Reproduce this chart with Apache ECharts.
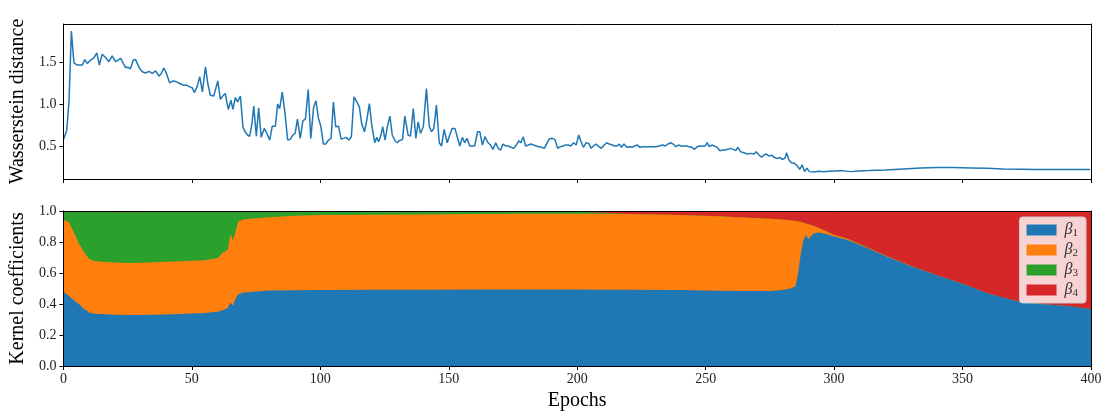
<!DOCTYPE html>
<html><head><meta charset="utf-8">
<script src="https://cdn.jsdelivr.net/npm/echarts@6/dist/echarts.min.js"></script>
<style>html,body{margin:0;padding:0;background:#fff}#c{width:1111px;height:412px}</style>
</head><body><div id="c"></div>
<script>
// ---- Top panel: Wasserstein distance (epoch, value) ----
const wEpoch = [0,1.3,2.2,3.1,4.1,5.4,7.4,8.3,9.3,10.6,11.9,13.0,14.0,15.1,16.4,17.7,19.0,20.3,21.2,22.3,
23.3,24.2,25.1,26.1,27.2,28.1,29.4,30.7,32.0,33.3,34.6,35.9,37.2,38.1,39.1,40.1,41.4,42.7,44.0,45.3,
46.6,47.9,49.2,50.1,51.0,52.0,53.1,54.1,55.3,56.2,57.2,58.5,60.1,61.1,62.0,63.0,64.2,65.2,66.0,66.9,
67.8,68.9,69.9,
70.8,71.7,72.5,73.4,74.1,75.1,76.0,77.0,78.2,79.2,80.3,81.3,82.5,83.4,84.2,85.2,86.2,87.3,88.3,89.3,
90.2,91.1,92.2,93.2,94.2,95.3,96.3,97.4,98.3,99.3,100.2,101.2,102.1,103.2,104.2,105.1,106.0,107.1,108.1,109.0,
110.0,111.1,112.1,113.1,114.2,115.2,116.1,117.2,118.1,119.1,120.1,121.2,122.0,122.7,123.5,124.3,125.2,126.1,127.1,128.0,
129.1,130.0,
130.7,132.0,132.9,134.2,135.1,136.2,137.2,138.1,139.0,140.1,141.3,142.4,143.3,144.2,145.2,146.3,147.2,148.2,149.4,150.4,
151.3,152.4,153.3,154.3,155.3,156.2,157.1,158.2,159.2,160.1,161.2,162.1,163.1,164.1,165.3,166.3,167.2,168.3,169.2,170.2,
171.1,172.2,173.2,174.2,175.3,176.3,177.3,178.1,179.0,179.9,181.0,182.0,183.0,184.1,185.1,186.1,187.2,188.2,189.2,190.3,
191.3,192.4,193.4,194.4,195.5,196.5,197.5,198.6,199.6,
200.6,201.5,202.4,203.5,204.5,205.4,206.3,207.3,208.4,209.4,210.5,211.5,212.5,213.6,214.6,215.5,216.4,217.2,218.2,219.3,
220.3,221.3,222.4,223.4,224.4,225.5,226.8,228.1,229.4,230.6,231.9,233.2,234.3,235.3,236.3,237.4,238.4,239.5,240.5,241.5,
242.6,243.6,244.6,245.7,246.7,247.7,248.8,249.8,250.6,251.4,252.4,253.4,254.5,255.5,256.5,257.6,258.6,259.6,260.7,261.7,
262.5,
263.6,264.9,266.2,267.5,268.8,269.7,270.8,271.8,272.7,273.6,274.6,275.7,276.7,277.8,278.8,279.8,280.9,281.5,282.4,283.4,
284.5,285.5,286.6,287.6,288.5,289.4,290.4,292.1,294.1,295.6,297.9,300.5,303.1,306.4,309.6,313.5,320.0,327.0,333.6,340.0,
346.5,353.0,359.4,365.9,372.4,378.9,385.3,391.8,399.6];
const wValue = [0.58,0.69,1.05,1.876,1.495,1.47,1.47,1.535,1.49,1.53,1.555,1.615,1.47,1.60,1.56,1.51,1.58,1.51,1.53,1.55,
1.49,1.44,1.445,1.425,1.53,1.535,1.445,1.39,1.375,1.395,1.37,1.40,1.337,1.37,1.435,1.37,1.257,1.28,1.27,1.25,
1.23,1.23,1.21,1.20,1.14,1.21,1.33,1.15,1.45,1.25,1.11,1.10,1.28,1.06,1.10,1.13,0.94,1.05,0.94,1.08,
1.03,1.10,0.73,
0.67,0.635,0.62,0.77,0.98,0.62,0.96,0.607,0.714,0.654,0.575,0.74,0.74,1.004,0.95,1.146,0.91,0.575,0.583,0.635,
0.654,0.825,0.595,0.805,0.825,1.178,0.595,0.964,1.043,0.833,0.74,0.527,0.527,0.575,0.595,1.027,0.734,0.74,0.587,0.595,
0.607,0.575,0.615,1.09,1.03,0.972,0.773,0.674,0.813,1.01,0.74,0.543,0.607,0.555,0.622,0.734,0.575,0.734,0.861,0.635,
0.567,0.543,
0.567,0.583,0.861,0.635,0.622,0.952,0.595,0.793,0.654,0.734,1.19,0.74,0.674,0.714,0.992,0.543,0.504,0.702,0.543,0.635,
0.714,0.714,0.615,0.504,0.607,0.543,0.595,0.504,0.504,0.504,0.674,0.674,0.515,0.615,0.543,0.515,0.464,0.543,0.476,0.456,
0.527,0.504,0.504,0.488,0.476,0.515,0.567,0.543,0.615,0.504,0.515,0.527,0.515,0.504,0.496,0.488,0.476,0.535,0.591,0.595,
0.583,0.476,0.496,0.504,0.515,0.515,0.504,0.543,0.515,
0.635,0.555,0.488,0.543,0.535,0.476,0.504,0.527,0.496,0.476,0.515,0.543,0.527,0.515,0.504,0.504,0.527,0.488,0.527,0.488,
0.496,0.488,0.504,0.515,0.488,0.496,0.496,0.496,0.496,0.496,0.504,0.515,0.504,0.527,0.543,0.527,0.496,0.515,0.504,0.504,
0.504,0.496,0.488,0.464,0.496,0.504,0.504,0.504,0.543,0.496,0.515,0.504,0.488,0.448,0.456,0.456,0.464,0.476,0.464,0.448,
0.488,
0.436,0.424,0.408,0.416,0.408,0.436,0.396,0.369,0.396,0.408,0.385,0.393,0.369,0.353,0.369,0.345,0.357,0.424,0.337,0.305,
0.297,0.274,0.226,0.278,0.198,0.238,0.198,0.194,0.202,0.198,0.202,0.206,0.21,0.198,0.206,0.21,0.218,0.23,0.242,0.246,
0.246,0.242,0.238,0.23,0.226,0.222,0.222,0.222,0.222];

// ---- Bottom panel: kernel coefficients ----
const kEpoch = [0,2,4,6,8,10,12,15,20,25,30,35,40,45,50,55,58,60,62,64,
65,66,67,68,70,73,76,80,90,100,120,140,160,180,190,200,210,220,240,255,
265,275,280,283,285,286,287,288,289,290,292,294,297,300,305,310,320,330,340,350,
360,370,380,390,400];
const beta1 = [0.477,0.455,0.424,0.40,0.37,0.345,0.337,0.335,0.331,0.329,0.329,0.331,0.333,0.335,0.338,0.342,0.346,0.35,0.36,0.375,
0.41,0.39,0.434,0.462,0.475,0.478,0.482,0.487,0.489,0.49,0.492,0.492,0.493,0.493,0.493,0.493,0.492,0.492,0.49,0.485,
0.484,0.484,0.49,0.50,0.515,0.60,0.72,0.81,0.843,0.82,0.855,0.862,0.852,0.835,0.815,0.782,0.71,0.643,0.585,0.53,
0.468,0.423,0.40,0.388,0.368];
const beta2 = [0.467,0.475,0.441,0.39,0.366,0.345,0.341,0.337,0.336,0.336,0.337,0.339,0.34,0.341,0.341,0.341,0.344,0.345,0.37,0.375,
0.44,0.42,0.431,0.468,0.47,0.472,0.473,0.473,0.481,0.484,0.484,0.486,0.487,0.489,0.49,0.49,0.49,0.488,0.485,0.481,
0.474,0.466,0.455,0.44,0.42,0.332,0.21,0.115,0.077,0.095,0.05,0.028,0.018,0.01,0.007,0.005,0.003,0.002,0.001,0.001,
0,0,0,0,0];
const beta3 = [0.056,0.069,0.132,0.206,0.259,0.304,0.315,0.321,0.325,0.327,0.326,0.323,0.32,0.318,0.316,0.313,0.307,0.303,0.268,0.249,
0.149,0.189,0.135,0.07,0.055,0.05,0.045,0.04,0.03,0.026,0.024,0.022,0.02,0.018,0.017,0.012,0.006,0,0,0,
0,0,0,0,0,0,0,0,0,0,0,0,0,0,0,0,0,0,0,0,
0,0,0,0,0];
const beta4 = [0,0.001,0.003,0.004,0.005,0.006,0.007,0.007,0.008,0.008,0.008,0.007,0.007,0.006,0.005,0.004,0.003,0.002,0.002,0.001,
0.001,0.001,0,0,0,0,0,0,0,0,0,0,0,0,0,0.005,0.012,0.02,0.025,0.034,
0.042,0.05,0.055,0.06,0.065,0.068,0.07,0.075,0.08,0.085,0.095,0.11,0.13,0.155,0.178,0.213,0.287,0.355,0.414,0.469,
0.532,0.577,0.60,0.612,0.632];

const seriesNames = ['β1','β2','β3','β4'];
const topYTicks = [0.5, 1.0, 1.5];

const FONT = 'Liberation Serif';
const COLORS = ['#1f77b4','#ff7f0e','#2ca02c','#d62728'];

// cumulative tops of the stacked areas
const betas = [beta1, beta2, beta3, beta4];
const cum = betas.map((_, s) => kEpoch.map((e, i) => {
  let t = 0; for (let k = 0; k <= s; k++) t += betas[k][i]; return [e, +t.toFixed(4)];
}));

const chart = echarts.init(document.getElementById('c'));

const tickLabel = {fontFamily: FONT, fontSize: 14, color: '#222'};
const baseX = (gi, showLabels) => ({
  type: 'value', gridIndex: gi, min: 0, max: 400, interval: 50, z: 10,
  axisLine: {show: true, onZero: false, lineStyle: {color: '#000', width: 1}},
  axisTick: {show: true, inside: false, length: 4, lineStyle: {color: '#000', width: 1}},
  axisLabel: Object.assign({show: showLabels, margin: 6}, tickLabel),
  splitLine: {show: false}
});
const borderAxis = (gi, pos, min, max) => ({
  type: 'value', gridIndex: gi, position: pos, min: min, max: max, z: 10,
  axisLine: {show: true, onZero: false, lineStyle: {color: '#000', width: 1}},
  axisTick: {show: false}, axisLabel: {show: false}, splitLine: {show: false}
});

const option = {
  animation: false,
  backgroundColor: '#fff',
  grid: [
    {left: 61, width: 1030, top: 24, height: 155},
    {left: 61, width: 1030, top: 211, height: 155}
  ],
  xAxis: [
    baseX(0, false),
    Object.assign(baseX(1, true), {name: 'Epochs', nameLocation: 'middle', nameGap: 25,
      nameTextStyle: {fontFamily: FONT, fontSize: 20, color: '#000'}}),
    borderAxis(0, 'top', 0, 400),
    borderAxis(1, 'top', 0, 400)
  ],
  yAxis: [
    {type: 'value', gridIndex: 0, min: 0.11, max: 1.96, z: 10,
     name: 'Wasserstein distance', nameLocation: 'middle', nameGap: 34, nameRotate: 90,
     nameTextStyle: {fontFamily: FONT, fontSize: 20, color: '#000'},
     axisLine: {show: true, onZero: false, lineStyle: {color: '#000', width: 1}},
     axisTick: {show: true, inside: false, length: 4, customValues: topYTicks, lineStyle: {color: '#000'}},
     axisLabel: Object.assign({customValues: topYTicks, margin: 7, formatter: v => v.toFixed(1)}, tickLabel),
     splitLine: {show: false}},
    {type: 'value', gridIndex: 1, min: 0, max: 1, interval: 0.2, z: 10,
     name: 'Kernel coefficients', nameLocation: 'middle', nameGap: 34, nameRotate: 90,
     nameTextStyle: {fontFamily: FONT, fontSize: 20, color: '#000'},
     axisLine: {show: true, onZero: false, lineStyle: {color: '#000', width: 1}},
     axisTick: {show: true, inside: false, length: 4, lineStyle: {color: '#000'}},
     axisLabel: Object.assign({margin: 7, formatter: v => v.toFixed(1)}, tickLabel),
     splitLine: {show: false}},
    borderAxis(0, 'right', 0.11, 1.96),
    borderAxis(1, 'right', 0, 1)
  ],
  legend: {
    data: seriesNames,
    orient: 'vertical', right: 25, top: 217,
    icon: 'rect', itemWidth: 30, itemHeight: 11, itemGap: 3,
    backgroundColor: 'rgba(255,255,255,0.8)', borderColor: '#cccccc', borderWidth: 1, borderRadius: 3,
    padding: [5, 8, 4, 7],
    formatter: n => '{b|β}{s|' + n.slice(1) + '}',
    textStyle: {
      color: '#333', padding: [0, 0, 0, 3],
      rich: {
        b: {fontFamily: FONT, fontSize: 16, fontStyle: 'italic', color: '#333'},
        s: {fontFamily: FONT, fontSize: 11, color: '#333', padding: [7, 0, 0, 0]}
      }
    }
  },
  series: [
    {type: 'line', xAxisIndex: 0, yAxisIndex: 0, showSymbol: false, symbol: 'none',
     data: wEpoch.map((e, i) => [e, wValue[i]]),
     lineStyle: {color: '#1f77b4', width: 1.5}, z: 3}
  ].concat([3, 2, 1, 0].map(s => ({
    name: seriesNames[s], type: 'line', xAxisIndex: 1, yAxisIndex: 1,
    showSymbol: false, symbol: 'none', data: cum[s],
    itemStyle: {color: COLORS[s]},
    lineStyle: {width: 0, color: COLORS[s]},
    areaStyle: {color: COLORS[s], opacity: 1, origin: 'start'},
    z: 2
  })))
};
chart.setOption(option);
</script></body></html>
